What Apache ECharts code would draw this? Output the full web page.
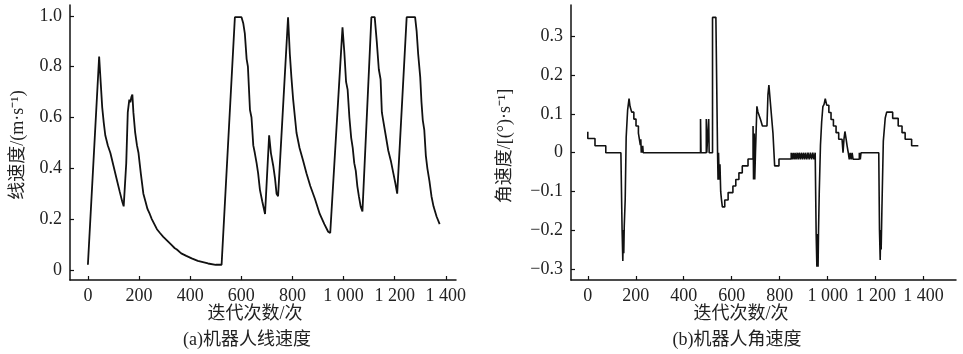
<!DOCTYPE html>
<html>
<head>
<meta charset="utf-8">
<script src="https://cdn.jsdelivr.net/npm/echarts@6.0.0/dist/echarts.min.js"></script>
<style>
  html, body { margin: 0; padding: 0; background: #fff; }
  #main { width: 963px; height: 354px; }
</style>
</head>
<body>
<div id="main"></div>
<script>
// 迭代次数 - 线速度 (a)
const linIter = [0, 44, 50, 56, 62, 68, 78, 88, 100, 112, 124, 134, 140, 144,
  150, 156, 162, 166, 170, 174, 178, 185, 192, 198, 207, 217, 225, 233, 242, 250,
  260, 270, 282, 295, 310, 325, 340, 348, 365, 385, 406, 430, 450, 470, 500, 523,
  575, 601, 608, 614, 621, 626, 634, 640, 647, 653, 660, 666, 673, 682, 693,
  709, 716, 725, 732, 738, 744,
  783, 790, 796, 803, 810, 816, 828, 842, 855, 870, 888, 907, 925, 940, 948,
  996, 1003, 1010, 1016, 1023, 1030, 1036, 1042, 1048, 1054, 1060, 1067, 1074,
  1109, 1122, 1130, 1138, 1145, 1150, 1155, 1165, 1175, 1185, 1195, 1203, 1210,
  1247, 1280, 1286, 1292, 1300, 1305, 1310, 1316, 1322, 1328, 1336, 1344, 1352, 1364, 1376];
const linSpeed = [0.02, 0.84, 0.74, 0.64, 0.58, 0.53, 0.49, 0.46, 0.41, 0.36, 0.31, 0.27, 0.25, 0.25,
  0.42, 0.62, 0.67, 0.66, 0.68, 0.69, 0.62, 0.54, 0.49, 0.46, 0.38, 0.30, 0.27, 0.24, 0.22, 0.20,
  0.18, 0.16, 0.145, 0.13, 0.115, 0.10, 0.085, 0.08, 0.065, 0.055, 0.045, 0.035, 0.03, 0.025, 0.02, 0.02,
  0.995, 0.995, 0.97, 0.93, 0.83, 0.80, 0.63, 0.60, 0.49, 0.46, 0.42, 0.38, 0.315, 0.27, 0.22,
  0.53, 0.46, 0.41, 0.36, 0.30, 0.29,
  0.995, 0.85, 0.76, 0.67, 0.60, 0.54, 0.48, 0.43, 0.38, 0.33, 0.28, 0.22, 0.18, 0.15, 0.145,
  0.955, 0.86, 0.74, 0.71, 0.60, 0.52, 0.48, 0.42, 0.39, 0.33, 0.29, 0.25, 0.23,
  0.995, 0.995, 0.90, 0.79, 0.75, 0.62, 0.59, 0.53, 0.47, 0.43, 0.38, 0.34, 0.30,
  0.995, 0.995, 0.94, 0.85, 0.76, 0.66, 0.59, 0.55, 0.45, 0.40, 0.35, 0.29, 0.25, 0.21, 0.18];

// 迭代次数 - 角速度 (b)
const angIter = [0, 0, 30, 30, 75, 75, 138, 143, 146, 148, 150, 152, 156, 160, 166, 172,
  176, 176, 183, 183, 192, 192, 201, 201, 211, 211, 217, 219, 221, 223, 225, 227, 229, 231,
  470, 470, 472, 472, 494, 494, 496, 496, 504, 504, 506, 506,
  520, 520, 534, 541, 543, 545, 548, 551, 554, 557, 561,
  571, 571, 585, 585, 605, 605, 617, 617, 630, 630, 644, 644, 668, 668, 689,
  689, 691, 691, 694, 694, 696, 699, 705, 709, 709, 716, 720, 728, 728, 747, 751, 755, 761, 772, 779,
  797, 797, 848, 848,
  852, 852, 856, 856, 860, 860, 864, 864, 868, 868, 873, 873, 877, 877, 881, 881, 886, 886,
  890, 890, 895, 895, 899, 899, 904, 904, 908, 908, 913, 913, 918, 918, 923, 923, 928, 928,
  933, 933, 938, 938, 943, 943, 948, 948,
  952, 955, 958, 960, 962, 965, 970, 975, 980, 985, 990, 996,
  996, 1005, 1005, 1014, 1014, 1024, 1024, 1035, 1035, 1046, 1046, 1060, 1064, 1068, 1072, 1077, 1081, 1086,
  1090, 1094, 1098, 1102, 1106, 1110, 1112, 1116, 1116, 1132, 1132, 1136, 1136, 1139, 1139,
  1213, 1216, 1219, 1221, 1223, 1226, 1232, 1240, 1246,
  1271, 1271, 1294, 1294, 1310, 1310, 1323, 1323, 1350, 1350, 1378];
const angSpeed = [0.054, 0.037, 0.037, 0.018, 0.018, 0, 0, -0.2, -0.28, -0.2, -0.26, -0.19, -0.12, 0.04, 0.11, 0.14,
  0.135, 0.12, 0.12, 0.105, 0.105, 0.087, 0.087, 0.069, 0.069, 0.051, 0.051, 0.02, 0.035, 0, 0.018, 0, 0.018, 0,
  0, 0.087, 0.087, 0, 0, 0.087, 0.087, 0, 0, 0.087, 0.087, 0,
  0, 0.35, 0.35, 0, -0.07, 0, -0.07, -0.03, -0.1, -0.12, -0.14,
  -0.14, -0.122, -0.122, -0.103, -0.103, -0.086, -0.086, -0.069, -0.069, -0.052, -0.052, -0.034, -0.034, -0.016, -0.016,
  0.069, 0.069, -0.069, -0.069, 0.05, -0.069, 0, 0.12, 0.12, 0.106, 0.106, 0.086, 0.086, 0.069, 0.069, 0.15, 0.175, 0.175, 0.05, -0.034,
  -0.034, -0.016, -0.016, 0,
  0, -0.017, -0.017, 0, 0, -0.017, -0.017, 0, 0, -0.017, -0.017, 0, 0, -0.017, -0.017, 0, 0, -0.017,
  -0.017, 0, 0, -0.017, -0.017, 0, 0, -0.017, -0.017, 0, 0, -0.017, -0.017, 0, 0, -0.017, -0.017, 0,
  0, -0.017, -0.017, 0, 0, -0.017, -0.017, 0,
  -0.21, -0.295, -0.21, -0.295, -0.2, -0.1, 0.02, 0.08, 0.119, 0.125, 0.14, 0.14,
  0.123, 0.123, 0.104, 0.104, 0.086, 0.086, 0.069, 0.069, 0.052, 0.052, 0.035, 0.035, 0, 0.035, 0.055, 0.035, 0.018, 0,
  -0.017, 0, -0.017, 0, -0.017, -0.017, -0.017, -0.017, -0.017, -0.017, 0, 0, -0.017, -0.017, 0,
  0, -0.2, -0.277, -0.2, -0.25, -0.15, 0.03, 0.09, 0.105,
  0.105, 0.089, 0.089, 0.069, 0.069, 0.052, 0.052, 0.035, 0.035, 0.018, 0.018];

const xTicks = [0, 200, 400, 600, 800, 1000, 1200, 1400];
const linTicks = [0, 0.2, 0.4, 0.6, 0.8, 1.0];
const angTicks = [-0.3, -0.2, -0.1, 0, 0.1, 0.2, 0.3];

const FONT = '"Liberation Serif", "Noto Sans CJK SC", serif';
const INK = '#111';

function zip(xs, ys) {
  return xs.map((x, i) => [x, ys[i]]);
}

function fmtIter(v) {
  let s = String(Math.round(v));
  if (s.length > 3) s = s.slice(0, s.length - 3) + ' ' + s.slice(-3);
  return s;
}

function xAxisOf(grid, max) {
  return {
    type: 'value',
    gridIndex: grid,
    min: -70,
    max: max,
    splitLine: { show: false },
    axisLine: { onZero: false, lineStyle: { color: INK, width: 1.5 } },
    axisTick: { inside: true, length: 4, customValues: xTicks, lineStyle: { color: INK, width: 1.2 } },
    axisLabel: {
      customValues: xTicks,
      formatter: fmtIter,
      fontFamily: FONT,
      fontSize: 18,
      color: '#222',
      margin: 7,
    },
  };
}

function yAxisOf(grid, min, max, ticks, fmt) {
  return {
    type: 'value',
    gridIndex: grid,
    min: min,
    max: max,
    splitLine: { show: false },
    axisLine: { onZero: false, lineStyle: { color: INK, width: 1.5 } },
    axisTick: { inside: true, length: 4, customValues: ticks, lineStyle: { color: INK, width: 1.2 } },
    axisLabel: {
      customValues: ticks,
      formatter: fmt,
      fontFamily: FONT,
      fontSize: 18,
      color: '#222',
      margin: 8,
    },
  };
}

function txt(text, x, y, rot) {
  return {
    type: 'text',
    x: x,
    y: y,
    rotation: rot || 0,
    style: {
      text: text,
      fill: '#222',
      font: '18px ' + FONT,
      align: 'center',
      verticalAlign: 'middle',
    },
  };
}

const chart = echarts.init(document.getElementById('main'));

const option = {
  animation: false,
  backgroundColor: '#fff',
  grid: [
    { left: 70, top: 5, width: 386, height: 275 },
    { left: 571, top: 5, width: 385, height: 275 },
  ],
  xAxis: [xAxisOf(0, 1440), xAxisOf(1, 1535)],
  yAxis: [
    yAxisOf(0, -0.04, 1.043, linTicks, v => (Math.abs(v) < 1e-9 ? '0' : v.toFixed(1))),
    yAxisOf(1, -0.329, 0.382, angTicks, v => {
      if (Math.abs(v) < 1e-9) return '0';
      return (v < 0 ? '\u2212' : '') + Math.abs(v).toFixed(1);
    }),
  ],
  series: [
    {
      type: 'line',
      xAxisIndex: 0,
      yAxisIndex: 0,
      data: zip(linIter, linSpeed),
      symbol: 'none',
      lineStyle: { color: INK, width: 1.8 },
    },
    {
      type: 'line',
      xAxisIndex: 1,
      yAxisIndex: 1,
      data: zip(angIter, angSpeed),
      symbol: 'none',
      lineStyle: { color: INK, width: 1.6 },
    },
  ],
  graphic: [
    txt('线速度/(m·s⁻¹)', 18, 145, Math.PI / 2),
    txt('迭代次数/次', 255, 314),
    txt('(a)机器人线速度', 247, 340),
    txt('角速度/[(°)·s⁻¹]', 505, 146, Math.PI / 2),
    txt('迭代次数/次', 741, 314),
    txt('(b)机器人角速度', 737, 340),
  ],
};

chart.setOption(option);
</script>
</body>
</html>
